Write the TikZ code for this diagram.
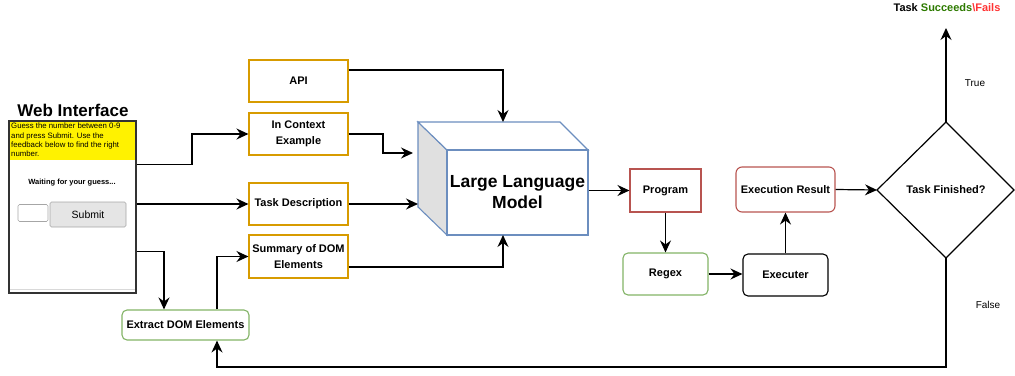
\documentclass[tikz,border=0pt]{standalone}
\usepackage{fontspec}
\setmainfont{Liberation Sans}
\usetikzlibrary{arrows.meta,calc}
\definecolor{dorange}{HTML}{D79B00}
\definecolor{dgreen}{HTML}{82B366}
\definecolor{dred}{HTML}{B85450}
\definecolor{dblue}{HTML}{6C8EBF}
\definecolor{okgreen}{HTML}{2D7A00}
\definecolor{badred}{HTML}{FF3333}
\begin{document}
\begin{tikzpicture}[x=1pt,y=-1pt,
  lbl/.style={font=\bfseries\fontsize{11}{13}\selectfont, align=center, inner sep=0pt},
  obox/.style={lbl, draw=dorange, line width=1.1pt, minimum width=99pt, minimum height=42pt},
  gbox/.style={lbl, draw=dgreen, line width=1.1pt, rounded corners=5pt},
  rbox/.style={lbl, draw=dred, line width=1.1pt},
  kbox/.style={lbl, draw=black, line width=1.1pt, rounded corners=5pt},
  conn/.style={line width=1.2pt, -{Stealth[length=12pt,width=11pt,inset=4pt]}},
  plain/.style={line width=1.2pt}
]
\useasboundingbox (0,0) rectangle (1015,375);

% Web interface
\node[font=\bfseries\fontsize{17}{19}\selectfont, inner sep=0pt] (webtitle) at (73,110) {Web Interface};
\node[draw=black!80, line width=1.2pt, minimum width=127pt, minimum height=172pt, inner sep=0pt] (web) at (72.5,207) {};
\fill[yellow] (9.6,121.6) rectangle (135.4,160);
\draw[black!15, line width=0.6pt] (10,289) -- (135,289);
\node[font=\fontsize{7.8}{9.3}\selectfont, align=left, anchor=north west, inner sep=0pt] (guess) at (11,123)
  {Guess the number between 0-9\\and press Submit. Use the\\feedback below to find the right\\number.};
\node[font=\bfseries\fontsize{7.5}{9}\selectfont, inner sep=0pt] (wait) at (72,183) {Waiting for your guess...};
\node[draw=black!35, rounded corners=1.5pt, line width=0.6pt, minimum width=30pt, minimum height=17pt, inner sep=0pt] (inp) at (33,213) {};
\node[draw=black!35, fill=black!10, rounded corners=1.5pt, line width=0.6pt, minimum width=76pt, minimum height=25pt, inner sep=0pt, font=\fontsize{10.5}{12}\selectfont] (submit) at (88,214.5) {Submit};

% Orange input boxes
\node[obox] (api) at (298.5,81) {API};
\node[obox] (ice) at (298.5,134) {In Context\\[3pt]Example};
\node[obox] (task) at (298.5,204) {Task Description};
\node[obox, minimum height=43pt] (summ) at (298.5,256.5) {Summary of DOM\\[3pt]Elements};

% Extract DOM
\node[gbox, minimum width=127pt, minimum height=30pt] (extract) at (185.5,325) {Extract DOM Elements};

% LLM cube
\coordinate (bl) at (418,122);
\coordinate (br) at (560,122);
\coordinate (fl) at (447,150);
\coordinate (fr) at (588,150);
\coordinate (fbl) at (447,235);
\coordinate (fbr) at (588,235);
\coordinate (lb) at (418,207);
\filldraw[fill=black!12, draw=dblue, line width=1.1pt] (bl) -- (fl) -- (fbl) -- (lb) -- cycle;
\filldraw[fill=white, draw=dblue, line width=1.1pt] (bl) -- (br) -- (fr) -- (fl) -- cycle;
\node[draw=dblue, fill=white, line width=1.1pt, minimum width=141pt, minimum height=85pt, inner sep=0pt,
  font=\bfseries\fontsize{17.5}{21}\selectfont, align=center] (llm) at (517.5,192.5) {Large Language\\Model};
\coordinate (llmtop) at (503,122);
\coordinate (llmbot) at (503,235);
\coordinate (llmin1) at (413,153);
\coordinate (llmin2) at (418,204);

% Right side
\node[rbox, minimum width=71pt, minimum height=43pt] (prog) at (665.5,190.5) {Program};
\node[gbox, minimum width=85pt, minimum height=42pt] (regex) at (665.5,274) {Regex};
\node[kbox, minimum width=85pt, minimum height=42pt] (exe) at (785.5,275) {Executer};
\node[rbox, rounded corners=6pt, minimum width=99pt, minimum height=45pt] (res) at (785.5,189.5) {Execution Result};

% Diamond
\coordinate (dl) at (877,190);
\coordinate (dt) at (946,122);
\coordinate (dr) at (1014,190);
\coordinate (db) at (946,258);
\draw[line width=1.2pt] (dl) -- (dt) -- (dr) -- (db) -- cycle;
\node[lbl] (fin) at (946,190) {Task Finished?};

% Outcome
\node[font=\bfseries\fontsize{11}{13}\selectfont, inner sep=0pt] (outcome) at (947,8) {Task \textcolor{okgreen}{Succeeds}\textcolor{badred}{\textbackslash Fails}};
\coordinate (outc) at (946,28);
\node[font=\fontsize{10}{12}\selectfont, inner sep=0pt] (truel) at (975,83) {True};
\node[font=\fontsize{10}{12}\selectfont, inner sep=0pt] (falsel) at (988,305) {False};

% Connectors from web interface
\draw[conn] ($(web.north east)+(0,44)$) -| (192,134) -- (ice.west);
\draw[conn] (web.east |- task) -- (task.west);
\draw[conn] ($(web.north east)+(0,131)$) -| (extract.north -| 164,0);
\draw[conn] (extract.north -| 217,0) |- (summ.west);

% Into LLM
\draw[conn] (api.east |- 0,70) -| (llmtop);
\draw[conn] (ice.east) -| (383,153) -- (llmin1);
\draw[conn] (task.east) -- (llmin2);
\draw[conn] (summ.east |- 0,267) -| (llmbot);

% Pipeline
\draw[conn] (llm.east |- prog) -- (prog.west);
\draw[conn] (prog.south) -- (regex.north);
\draw[conn] (regex.east) -- (exe.west |- regex.east);
\draw[conn] (exe.north) -- (res.south);
\draw[conn] (res.east) -- (dl);
\draw[conn] (dt) -- (outc);
\draw[conn] (db) -- (946,367) -| (extract.south -| 217,0);
\end{tikzpicture}
\end{document}
